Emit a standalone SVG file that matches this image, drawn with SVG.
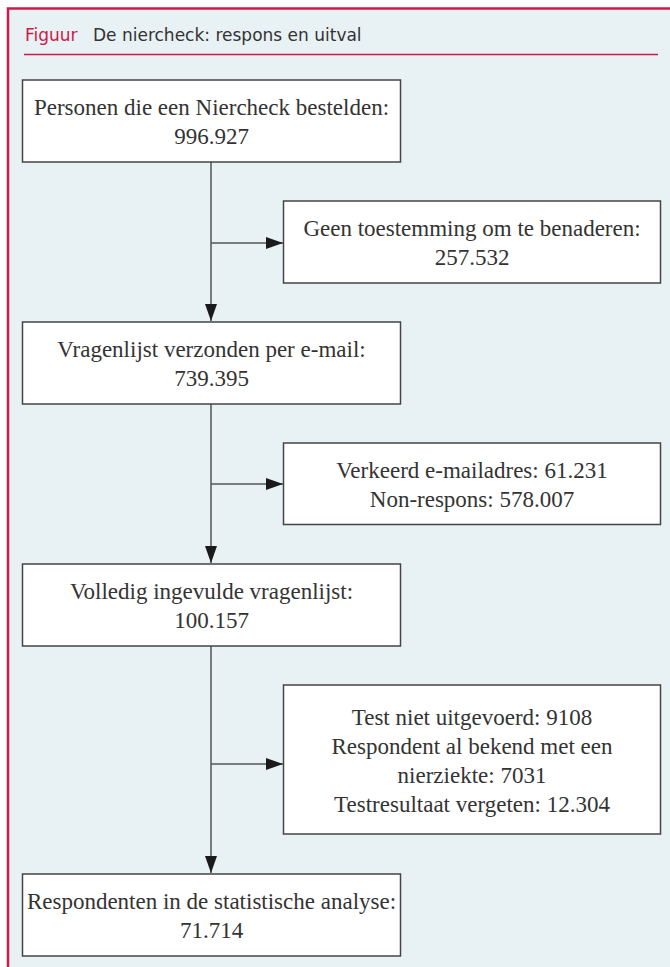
<svg xmlns="http://www.w3.org/2000/svg" width="670" height="967" viewBox="0 0 670 967">
<style>
.frame{fill:#e8f1f4;stroke:#cc1a4a;stroke-width:2.5}
.rule{stroke:#cc1a4a;stroke-width:1.5}
.title{font-family:"DejaVu Sans","Noto Sans",sans-serif;font-size:17px;fill:#333}
.red{fill:#cc1a4a}
.box{fill:#ffffff;stroke:#444;stroke-width:1.5}
.lbl{font-family:"Liberation Serif","DejaVu Serif",serif;font-size:23px;fill:#333;text-anchor:middle}
.conn{stroke:#555;stroke-width:1.5;fill:none}
</style>
<defs>
<marker id="ah" markerWidth="17" markerHeight="12" refX="17" refY="6" orient="auto" markerUnits="userSpaceOnUse">
<path d="M0,0 L17,6 L0,12 Z" fill="#1a1a1a"/>
</marker>
</defs>
<rect class="frame" x="8" y="8.5" width="700" height="1000"/>
<text class="title" x="25" y="41"><tspan class="red">Figuur</tspan><tspan x="93">De niercheck: respons en uitval</tspan></text>
<line class="rule" x1="24" y1="54.5" x2="658" y2="54.5"/>
<g id="connectors">
<line class="conn" x1="211" y1="162" x2="211" y2="321" marker-end="url(#ah)"/>
<line class="conn" x1="211" y1="243" x2="283" y2="243" marker-end="url(#ah)"/>
<line class="conn" x1="211" y1="404" x2="211" y2="563" marker-end="url(#ah)"/>
<line class="conn" x1="211" y1="484" x2="283" y2="484" marker-end="url(#ah)"/>
<line class="conn" x1="211" y1="646" x2="211" y2="873" marker-end="url(#ah)"/>
<line class="conn" x1="211" y1="764" x2="283" y2="764" marker-end="url(#ah)"/>
</g>
<g id="n1">
<rect class="box" x="22.5" y="80" width="378" height="82"/>
<text class="lbl" x="211.5" y="115">Personen die een Niercheck bestelden:</text>
<text class="lbl" x="211.5" y="144">996.927</text>
</g>
<g id="n2">
<rect class="box" x="283.5" y="201" width="377" height="82"/>
<text class="lbl" x="472" y="236">Geen toestemming om te benaderen:</text>
<text class="lbl" x="472" y="265">257.532</text>
</g>
<g id="n3">
<rect class="box" x="22.5" y="322" width="378" height="82"/>
<text class="lbl" x="211.5" y="357">Vragenlijst verzonden per e-mail:</text>
<text class="lbl" x="211.5" y="386">739.395</text>
</g>
<g id="n4">
<rect class="box" x="283.5" y="443" width="377" height="81.5"/>
<text class="lbl" x="472" y="478">Verkeerd e-mailadres: 61.231</text>
<text class="lbl" x="472" y="507">Non-respons: 578.007</text>
</g>
<g id="n5">
<rect class="box" x="22.5" y="564" width="378" height="82"/>
<text class="lbl" x="211.5" y="599">Volledig ingevulde vragenlijst:</text>
<text class="lbl" x="211.5" y="628">100.157</text>
</g>
<g id="n6">
<rect class="box" x="283.5" y="685" width="377" height="149"/>
<text class="lbl" x="472" y="725">Test niet uitgevoerd: 9108</text>
<text class="lbl" x="472" y="754">Respondent al bekend met een</text>
<text class="lbl" x="472" y="783">nierziekte: 7031</text>
<text class="lbl" x="472" y="812">Testresultaat vergeten: 12.304</text>
</g>
<g id="n7">
<rect class="box" x="22.5" y="874" width="378" height="82"/>
<text class="lbl" x="211.5" y="909">Respondenten in de statistische analyse:</text>
<text class="lbl" x="211.5" y="938">71.714</text>
</g>
</svg>
